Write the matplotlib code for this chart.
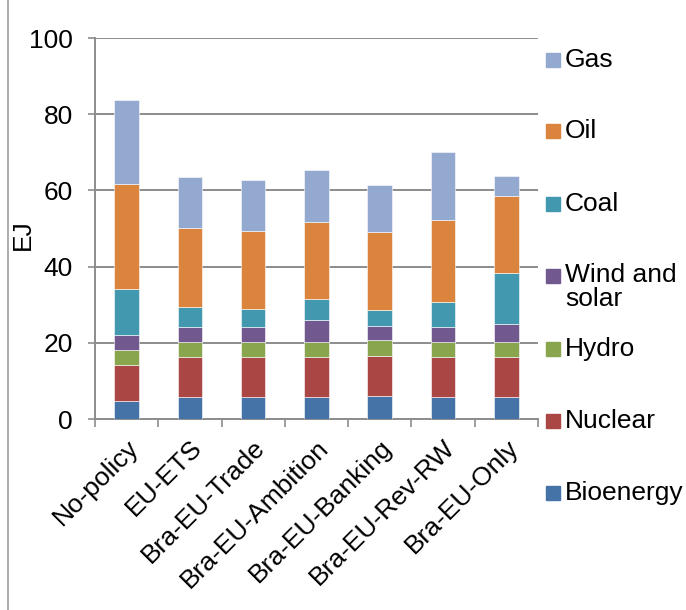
import matplotlib.pyplot as plt
import matplotlib.patches as mpatches
import numpy as np

plt.rcParams['font.family'] = ['Liberation Sans', 'DejaVu Sans']

scenarios = ['No-policy', 'EU-ETS', 'Bra-EU-Trade', 'Bra-EU-Ambition',
             'Bra-EU-Banking', 'Bra-EU-Rev-RW', 'Bra-EU-Only']
sources = ['Bioenergy', 'Nuclear', 'Hydro', 'Wind and\nsolar', 'Coal', 'Oil', 'Gas']
colors = ['#4572A7', '#AA4643', '#89A54E', '#71588F', '#4198AF', '#DB843D', '#93A9CF']

bioenergy = [4.7, 5.7, 5.7, 5.7, 6.0, 5.7, 5.7]
nuclear = [9.6, 10.6, 10.6, 10.6, 10.6, 10.6, 10.6]
hydro = [3.8, 4.0, 4.0, 4.0, 4.1, 4.0, 4.0]
wind_solar = [4.0, 3.9, 3.9, 5.8, 3.7, 3.9, 4.6]
coal = [12.0, 5.3, 4.8, 5.3, 4.2, 6.5, 13.4]
oil = [27.5, 20.6, 20.3, 20.4, 20.4, 21.5, 20.3]
gas = [22.2, 13.4, 13.5, 13.6, 12.5, 18.0, 5.3]

series = [bioenergy, nuclear, hydro, wind_solar, coal, oil, gas]

FS = 19

fig = plt.figure(figsize=(6.86, 6.10), dpi=100)
ax = fig.add_axes((0.1385, 0.313, 0.6455, 0.6247))

grid_col = '#8c8c8c'
x = np.arange(len(scenarios))
bottom = np.zeros(len(scenarios))
for vals, col in zip(series, colors):
    ax.bar(x, vals, 0.39, bottom=bottom, color=col, edgecolor='white',
           linewidth=0.4, zorder=3)
    bottom += np.array(vals)

ax.set_xlim(-0.5, len(scenarios) - 0.5)
ax.set_ylim(0, 100)
ax.set_yticks(np.arange(0, 101, 20))
ax.yaxis.grid(True, color=grid_col, linewidth=1.4, zorder=0)
ax.tick_params(axis='y', labelsize=FS, length=5, width=1.2, color=grid_col, pad=11)

ax.set_xticks(x)
ax.set_xticklabels(scenarios, rotation=45, ha='right', rotation_mode='anchor',
                   fontsize=FS)
ax.set_xticks(np.arange(-0.5, len(scenarios)), minor=True)
ax.tick_params(axis='x', which='major', length=0, pad=12)
ax.tick_params(axis='x', which='minor', length=6, width=1.2, color=grid_col)

for s in ['top', 'right']:
    ax.spines[s].set_visible(False)
for s in ['left', 'bottom']:
    ax.spines[s].set_color(grid_col)
    ax.spines[s].set_linewidth(1.4)

ax.set_ylabel('EJ', fontsize=FS)
ax.yaxis.set_label_coords(-0.135, 0.483)

# legend, drawn in reverse order as in the original
legend_y = [60, 131, 204, 287, 349, 421, 493]
for i, (name, col) in enumerate(zip(sources[::-1], colors[::-1])):
    yc = legend_y[i]
    if '\n' in name:
        yb = 276
    else:
        yb = yc
    fig.add_artist(mpatches.Rectangle((546 / 686, 1 - (yb + 7) / 610), 14 / 686, 14 / 610,
                                      transform=fig.transFigure, color=col))
    fig.text(565 / 686, 1 - yc / 610, name, fontsize=FS, va='center', ha='left',
             linespacing=1.0)

# chart frame on the left
fig.add_artist(plt.Line2D([8 / 686, 8 / 686], [0, 1], transform=fig.transFigure,
                          color='#a0a0a0', linewidth=1.2))

fig.savefig('out.png', dpi=100)
